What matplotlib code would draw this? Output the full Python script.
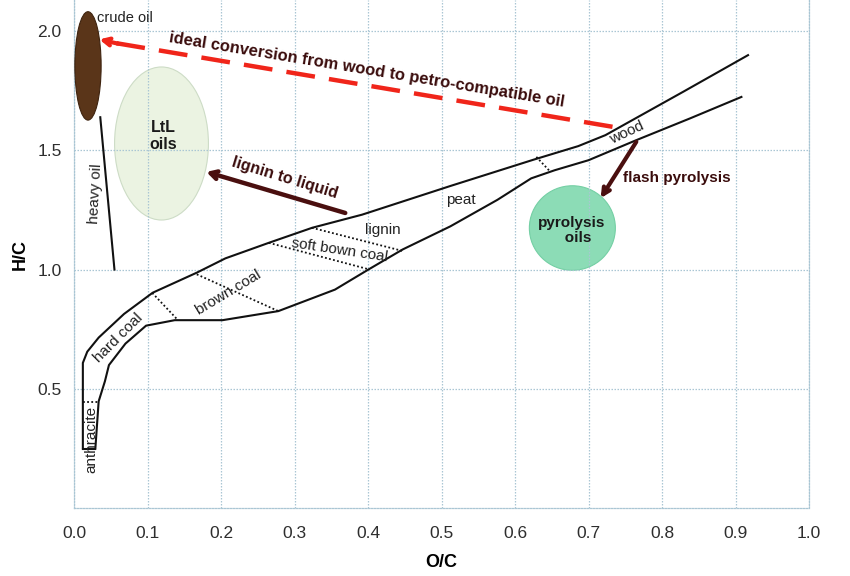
import matplotlib
matplotlib.use("Agg")
import matplotlib.pyplot as plt
from matplotlib.patches import Ellipse

plt.rcParams['font.family'] = ['Liberation Sans', 'DejaVu Sans']

# ---- data (O/C, H/C) ----
upper_oc = [0.012, 0.012, 0.018, 0.0335, 0.068, 0.107, 0.167, 0.206, 0.265, 0.324,
            0.392, 0.512, 0.625, 0.686, 0.723, 0.762, 0.829, 0.917]
upper_hc = [0.25, 0.609, 0.656, 0.715, 0.814, 0.903, 0.987, 1.047, 1.112, 1.175,
            1.230, 1.350, 1.460, 1.517, 1.563, 1.630, 1.745, 1.898]

lower_oc = [0.029, 0.0335, 0.042, 0.0475, 0.070, 0.098, 0.137, 0.202, 0.278, 0.355,
            0.401, 0.447, 0.512, 0.576, 0.622, 0.654, 0.700, 0.765, 0.838, 0.908]
lower_hc = [0.25, 0.448, 0.532, 0.600, 0.690, 0.765, 0.788, 0.788, 0.826, 0.916,
            1.001, 1.084, 1.181, 1.292, 1.382, 1.416, 1.458, 1.542, 1.633, 1.723]

# dotted boundaries between coal ranks: (oc_start, oc_end), (hc_start, hc_end)
sep_oc = [(0.012, 0.0335), (0.1065, 0.1405), (0.167, 0.278), (0.265, 0.401),
          (0.3236, 0.447), (0.629, 0.647)]
sep_hc = [(0.444, 0.444), (0.902, 0.791), (0.980, 0.826), (1.112, 1.001),
          (1.175, 1.078), (1.472, 1.413)]

heavy_oc = [0.0357, 0.055]
heavy_hc = [1.638, 1.0]

x_ticks = [0.0, 0.1, 0.2, 0.3, 0.4, 0.5, 0.6, 0.7, 0.8, 0.9, 1.0]
y_ticks = [0.5, 1.0, 1.5, 2.0]

fig = plt.figure(figsize=(8.5, 5.76), dpi=100)
ax = fig.add_axes([0.0871, 0.1175, 0.8647, 0.8825])
ax.set_xlim(0, 1.0)
ax.set_ylim(0, 2.129)

grid_c = '#aac6d4'
ax.set_xticks(x_ticks)
ax.set_yticks(y_ticks)
ax.set_xticklabels([f'{v:.1f}' for v in x_ticks])
ax.set_yticklabels([f'{v:.1f}' for v in y_ticks])
ax.grid(True, color=grid_c, linestyle=(0, (1.2, 1.2)), linewidth=0.9)
ax.tick_params(length=0, labelsize=12.5, labelcolor='#2e2e2e')
ax.tick_params(axis='x', pad=13)
ax.tick_params(axis='y', pad=9)
for side in ['left', 'bottom', 'right']:
    ax.spines[side].set_color(grid_c)
    ax.spines[side].set_linestyle((0, (1.2, 1.2)))
    ax.spines[side].set_linewidth(0.9)
ax.spines['top'].set_visible(False)
ax.set_xlabel('O/C', fontsize=13, fontweight='bold', labelpad=9)
ax.set_ylabel('H/C', fontsize=13, fontweight='bold', labelpad=6)

# ellipses / blobs
ax.add_patch(Ellipse((0.119, 1.528), 0.1277, 0.641, facecolor='#ebf3e2',
                     edgecolor='#cddcc6', linewidth=0.8, zorder=1))
ax.add_patch(Ellipse((0.019, 1.853), 0.0357, 0.454, facecolor='#5a3519',
                     edgecolor='#3e230f', linewidth=0.8, zorder=3))
ax.add_patch(Ellipse((0.678, 1.174), 0.117, 0.354, facecolor='#8cdcb6',
                     edgecolor='#74cfa4', linewidth=0.8, zorder=1))

# coalification band
lc = '#111111'
ax.plot(upper_oc, upper_hc, color=lc, lw=1.5, zorder=4)
ax.plot(lower_oc, lower_hc, color=lc, lw=1.5, zorder=4)
ax.plot([upper_oc[0], lower_oc[0]], [upper_hc[0], lower_hc[0]], color=lc, lw=1.5, zorder=4)
for xs, ys in zip(sep_oc, sep_hc):
    ax.plot(xs, ys, color=lc, lw=1.3, linestyle=(0, (1, 1.3)), zorder=4)
ax.plot(heavy_oc, heavy_hc, color=lc, lw=1.5, zorder=4)

# red dashed arrow (ideal conversion)
red = '#f0251a'
ax.plot([0.7326, 0.05], [1.598, 1.952], color=red, lw=3.2,
        linestyle=(0, (6.5, 3.2)), solid_capstyle='butt', zorder=5)
ax.annotate('', xy=(0.0344, 1.964), xytext=(0.06, 1.946),
            arrowprops=dict(arrowstyle='->,head_length=0.5,head_width=0.25',
                            color=red, lw=3.0, shrinkA=0, shrinkB=0), zorder=5)

brown = '#4a0f0f'
ax.annotate('', xy=(0.180, 1.409), xytext=(0.369, 1.237),
            arrowprops=dict(arrowstyle='->,head_length=0.5,head_width=0.28',
                            color=brown, lw=3.2, shrinkA=0, shrinkB=0), zorder=5)
ax.annotate('', xy=(0.7165, 1.299), xytext=(0.765, 1.535),
            arrowprops=dict(arrowstyle='->,head_length=0.5,head_width=0.25',
                            color=brown, lw=3.0, shrinkA=0, shrinkB=0), zorder=5)

# annotations
tcol = '#3a0c0c'
ax.text(0.398, 1.838, 'ideal conversion from wood to petro-compatible oil', fontsize=11.9,
        fontweight='bold', color=tcol, rotation=-9.3, ha='center', va='center',
        rotation_mode='anchor', zorder=6)
ax.text(0.287, 1.385, 'lignin to liquid', fontsize=11.5, fontweight='bold', color=tcol,
        rotation=-17, ha='center', va='center', rotation_mode='anchor', zorder=6)
ax.text(0.7463, 1.382, 'flash pyrolysis', fontsize=11, fontweight='bold', color=tcol,
        ha='left', va='center', zorder=6)
ax.text(0.1217, 1.56, 'LtL\noils', fontsize=11.5, fontweight='bold', color='#1a1a1a',
        ha='center', va='center', linespacing=1.15, zorder=6)
ax.text(0.677, 1.163, 'pyrolysis\n   oils', fontsize=11, fontweight='bold', color='#1a1a1a',
        ha='center', va='center', linespacing=1.15, zorder=6)

lab = '#222222'
ax.text(0.031, 2.052, 'crude oil', fontsize=10.5, color=lab, ha='left', va='center', zorder=6)
ax.text(0.029, 1.32, 'heavy oil', fontsize=11, color=lab, rotation=87, ha='center',
        va='center', rotation_mode='anchor', zorder=6)
ax.text(0.023, 0.287, 'anthracite', fontsize=11, color=lab, rotation=90, ha='center',
        va='center', rotation_mode='anchor', zorder=6)
ax.text(0.0605, 0.712, 'hard coal', fontsize=11, color=lab, rotation=45, ha='center',
        va='center', rotation_mode='anchor', zorder=6)
ax.text(0.210, 0.902, 'brown coal', fontsize=11, color=lab, rotation=31, ha='center',
        va='center', rotation_mode='anchor', zorder=6)
ax.text(0.362, 1.081, 'soft bown coal', fontsize=11, color=lab, rotation=-8.5, ha='center',
        va='center', rotation_mode='anchor', zorder=6)
ax.text(0.4195, 1.1675, 'lignin', fontsize=11, color=lab, ha='center', va='center', zorder=6)
ax.text(0.526, 1.292, 'peat', fontsize=11, color=lab, ha='center', va='center', zorder=6)
ax.text(0.752, 1.572, 'wood', fontsize=11, color=lab, rotation=25, ha='center',
        va='center', rotation_mode='anchor', zorder=6)

fig.savefig('out.png', dpi=100)
